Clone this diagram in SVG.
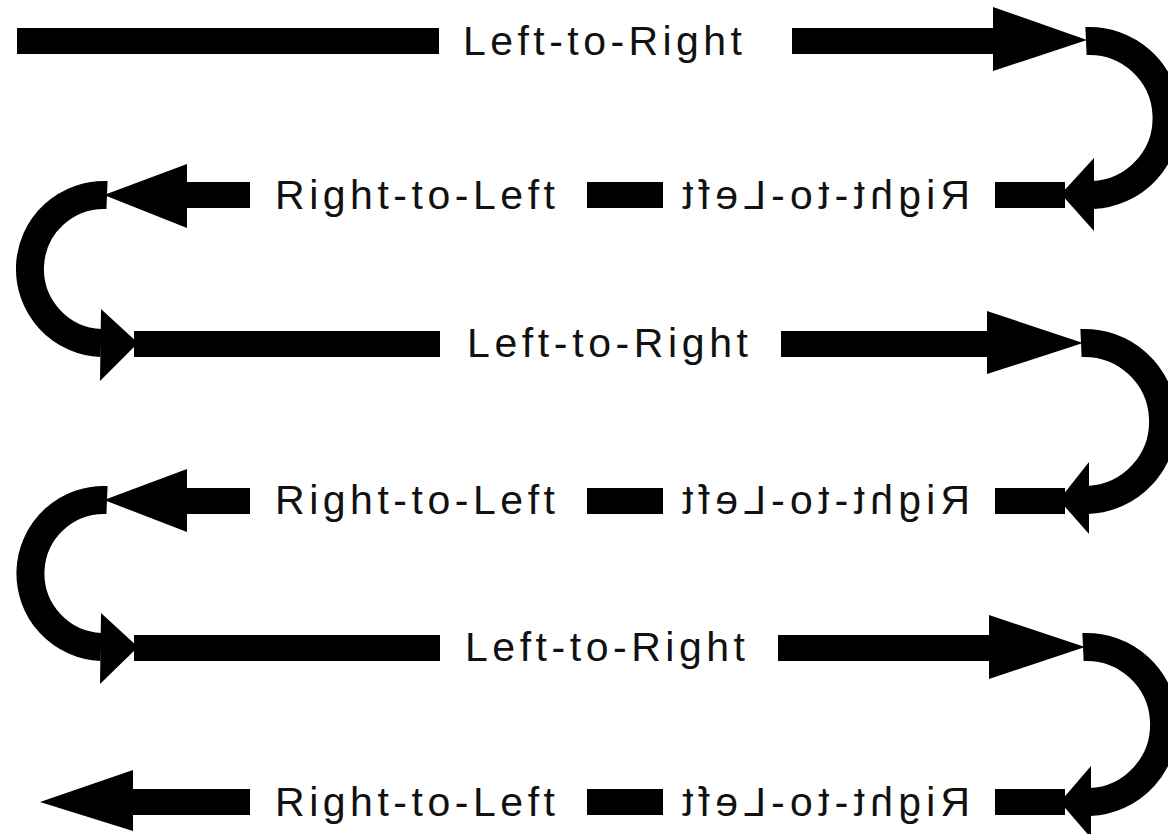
<svg xmlns="http://www.w3.org/2000/svg" width="1168" height="834" viewBox="0 0 1168 834">
<style>
.bar{fill:#000}
.head{fill:#000}
.curve{fill:none;stroke:#000;stroke-width:28}
.lbl{font-family:"Liberation Sans",Arial,sans-serif;font-size:41px;fill:#111;text-anchor:middle}
</style>
<rect width="1168" height="834" fill="#fff"/>
<g id="connectors">
  <!-- row 1 -->
  <rect class="bar" x="17" y="28" width="422" height="26"/>
  <rect class="bar" x="792" y="28" width="205" height="26"/>
  <polygon class="head" points="993,7 1087,40 993,71"/>
  <path class="curve" d="M1086,41 A77,77 0 0 1 1093,195"/>
  <polygon class="head" points="1094,158 1061,194 1094,231"/>
  <!-- row 2 -->
  <rect class="bar" x="995" y="182" width="70" height="26"/>
  <rect class="bar" x="587" y="182" width="76" height="26"/>
  <rect class="bar" x="183" y="182" width="67" height="26"/>
  <polygon class="head" points="187,164 104,195 187,228"/>
  <path class="curve" d="M107,195 A74,74 0 0 0 101,343"/>
  <polygon class="head" points="101,309 138,343 100,381"/>
  <!-- row 3 -->
  <rect class="bar" x="134" y="331" width="306" height="26"/>
  <rect class="bar" x="781" y="331" width="210" height="26"/>
  <polygon class="head" points="987,311 1083,343 987,374"/>
  <path class="curve" d="M1081,343 A78.5,78.5 0 0 1 1088,500"/>
  <polygon class="head" points="1089,462 1059,500 1089,534"/>
  <!-- row 4 -->
  <rect class="bar" x="995" y="488" width="70" height="26"/>
  <rect class="bar" x="587" y="488" width="76" height="26"/>
  <rect class="bar" x="183" y="488" width="67" height="26"/>
  <polygon class="head" points="187,469 104,500 187,532"/>
  <path class="curve" d="M107,500 A73.5,73.5 0 0 0 101,647"/>
  <polygon class="head" points="101,613 138,647 100,684"/>
  <!-- row 5 -->
  <rect class="bar" x="134" y="635" width="306" height="26"/>
  <rect class="bar" x="778" y="635" width="214" height="26"/>
  <polygon class="head" points="989,615 1085,647 989,679"/>
  <path class="curve" d="M1083,647 A77.5,77.5 0 0 1 1090,802"/>
  <polygon class="head" points="1091,766 1060,802 1091,838"/>
  <!-- row 6 -->
  <rect class="bar" x="995" y="789" width="70" height="26"/>
  <rect class="bar" x="587" y="789" width="76" height="26"/>
  <rect class="bar" x="130" y="789" width="120" height="26"/>
  <polygon class="head" points="133,770 40,802 133,831"/>
</g>
<g id="row1"><text class="lbl" x="602.5" y="55" textLength="279" lengthAdjust="spacing">Left-to-Right</text></g>
<g id="row2">
  <text class="lbl" x="415" y="209" textLength="280" lengthAdjust="spacing">Right-to-Left</text>
  <text class="lbl" x="0" y="209" textLength="288" lengthAdjust="spacing" transform="translate(826,0) scale(-1,1)">Right-to-Left</text>
</g>
<g id="row3"><text class="lbl" x="607.5" y="357" textLength="281" lengthAdjust="spacing">Left-to-Right</text></g>
<g id="row4">
  <text class="lbl" x="415" y="514" textLength="280" lengthAdjust="spacing">Right-to-Left</text>
  <text class="lbl" x="0" y="514" textLength="288" lengthAdjust="spacing" transform="translate(826,0) scale(-1,1)">Right-to-Left</text>
</g>
<g id="row5"><text class="lbl" x="605" y="661" textLength="280" lengthAdjust="spacing">Left-to-Right</text></g>
<g id="row6">
  <text class="lbl" x="415" y="816" textLength="280" lengthAdjust="spacing">Right-to-Left</text>
  <text class="lbl" x="0" y="816" textLength="288" lengthAdjust="spacing" transform="translate(826,0) scale(-1,1)">Right-to-Left</text>
</g>
</svg>
